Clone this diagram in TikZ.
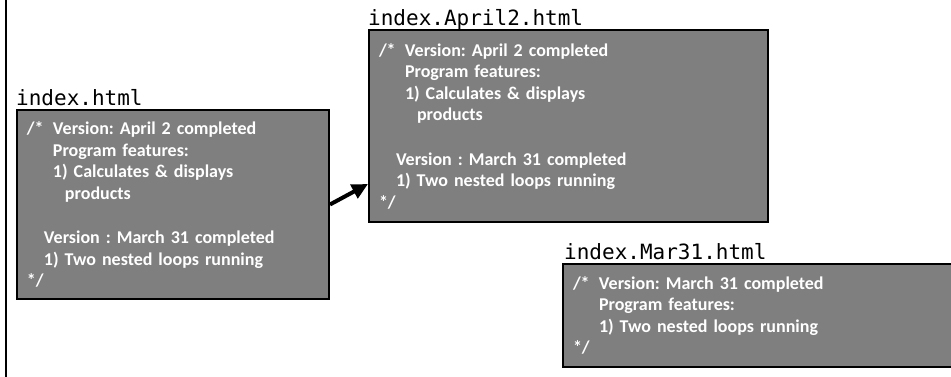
\documentclass[tikz,border=0pt]{standalone}
\usepackage{fontspec}
\newfontfamily\commentfont{Carlito}
\newfontfamily\filefont{DejaVu Sans Mono}
\usetikzlibrary{positioning,arrows.meta}
\definecolor{codegray}{RGB}{127,127,127}
\frenchspacing
\tikzset{
codebox/.style={
	  draw=black, line width=2pt, fill=codegray, text=white,
	    font=\commentfont\bfseries\fontsize{18}{21.5}\selectfont,
	    align=left, inner xsep=10pt, anchor=north west},
filename/.style={font=\filefont\fontsize{21}{24}\selectfont,
	    inner sep=0pt},
link/.style={-{Triangle[length=16pt,width=15pt]}, line width=4pt}
}
\newcommand{\opencmt}{\makebox[26pt][l]{/*}}
\newcommand{\closecmt}{{*}/}

\begin{document}
\begin{tikzpicture}[x=1pt, y=1pt]
	\useasboundingbox (0,0) rectangle (951,377);
	\draw[line width=2pt] (6,0) -- (6,377);
	% the three versions of the file
	\node[codebox, text width=292pt, minimum height=189pt] (indexbox) at (16,268) {
		\opencmt Version: April 2 completed\\
		\hspace*{26pt}Program features:\\
		\hspace*{26pt}1) Calculates \& displays\\
		\hspace*{38pt}products\\[23pt]
		\hspace*{17pt}Version : March 31 completed\\
		\hspace*{17pt}1) Two nested loops running\\
		\closecmt};
	\node[codebox, text width=379pt, minimum height=192pt] (aprilbox) at (368,348) {
		\opencmt Version: April 2 completed\\
		\hspace*{26pt}Program features:\\
		\hspace*{26pt}1) Calculates \& displays\\
		\hspace*{38pt}products\\[23pt]
		\hspace*{17pt}Version : March 31 completed\\
		\hspace*{17pt}1) Two nested loops running\\
		\closecmt};
	\node[codebox, text width=380pt, minimum height=103pt] (marbox) at (562,114) {
		\opencmt Version: March 31 completed\\
		\hspace*{26pt}Program features:\\
		\hspace*{26pt}1) Two nested loops running\\
		\closecmt};
	\node[filename, above=3pt of indexbox.north west, anchor=base west] (indexname) {index.html};
	\node[filename, above=3pt of aprilbox.north west, anchor=base west] (aprilname) {index.April2.html};
	\node[filename, above=3pt of marbox.north west, anchor=base west, xshift=2pt] (marname) {index.Mar31.html};
	\draw[link] (indexbox.east) -- ([yshift=-58pt]aprilbox.west);
\end{tikzpicture}
\end{document}
